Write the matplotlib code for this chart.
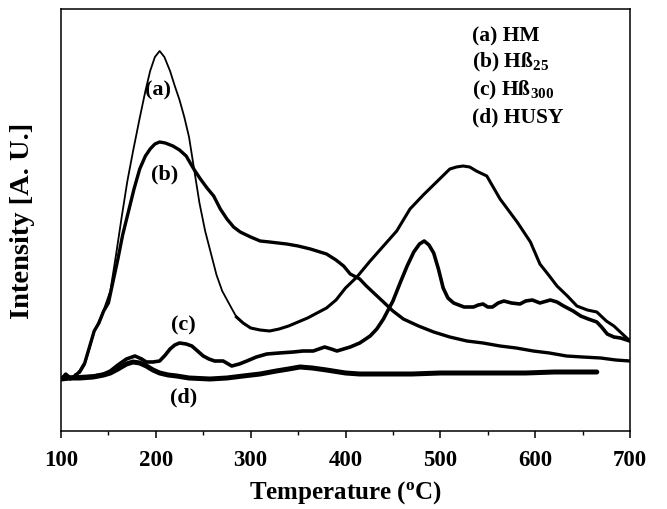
import matplotlib
matplotlib.use("Agg")
import matplotlib.pyplot as plt
import numpy as np

# ---- data (temperature in degC, intensity in arbitrary units) ----
T_a = [100,105,110,115,120,125,130,135,140,145,152,158,164,170,176,183,189,194,199,204,
       209,215,220,225,230,235,240,246,252,258,264,270,278,285,292,300,310,320,330,340,
       350,360,370,380,390,400,412,426,440,454,468,482,496,510,517,524,531,538,549,563,
       581,595,605,615,623,634,644,655,665,675,683,692,700]
I_a = [53,56,51,57,58,66,82,99,110,121,140,176,214,250,280,313,340,360,374,380,
       374,360,345,331,314,294,264,228,200,178,156,140,126,114,108,103,101,100,102,105,
       109,113,118,123,131,143,154,170,185,200,222,236,249,262,264,265,264,260,255,232,
       209,189,167,155,145,135,125,121,119,110,105,97,90]

T_b = [100,105,110,115,120,125,130,135,140,145,150,155,160,165,171,177,183,189,194,199,
       204,210,218,225,232,240,247,254,261,268,275,282,289,300,310,320,338,350,363,380,
       390,398,405,415,422,431,440,450,461,477,493,510,528,545,563,580,598,615,633,650,
       669,685,700]
I_b = [52,57,53,55,60,68,84,100,108,120,128,150,172,196,219,242,262,275,282,287,
       289,288,285,281,275,262,252,243,235,222,212,204,199,194,190,189,187,185,182,177,
       171,165,157,152,145,137,129,120,112,105,99,94,90,88,85,83,80,78,75,74,
       73,71,70]

T_c = [100,115,134,145,152,160,169,178,185,190,197,204,210,215,220,225,232,238,244,250,
       256,262,271,280,288,296,306,317,330,345,355,366,372,378,385,391,398,405,415,426,
       433,440,450,458,465,472,478,483,488,493,498,503,508,514,525,535,540,545,550,555,
       561,567,575,584,590,597,605,616,623,630,640,648,656,665,670,676,683,690,700]
I_c = [53,54,55,57,60,66,72,75,72,69,69,70,76,82,86,88,87,85,80,75,
       72,70,70,65,67,70,74,77,78,79,80,80,82,84,82,80,82,84,88,95,
       102,112,130,149,165,179,187,190,186,178,162,143,133,128,124,124,126,127,124,124,
       128,130,128,127,130,131,128,131,129,125,120,115,112,109,104,97,94,93,90]

T_d = [100,110,120,134,145,152,160,169,176,183,190,197,204,213,222,235,257,275,292,310,
       327,340,352,365,380,400,415,440,470,500,530,560,590,620,650,665]
I_d = [52,53,53,54,56,58,62,67,69,68,65,61,58,56,55,53,52,53,55,57,
       60,62,64,63,61,58,57,57,57,58,58,58,58,59,59,59]

labels = ["(a)", "(b)", "(c)", "(d)"]
label_T = [202.6, 209.7, 229, 229]
label_I = [342, 258, 107, 35]

legend_lines = ["(a) HM", "(b) Hß$_{25}$", "(c) Hß$_{300}$", "(d) HUSY"]

x_ticks = [100, 200, 300, 400, 500, 600, 700]

# ---- style ----
plt.rcParams['font.family'] = ['Liberation Serif', 'DejaVu Serif']
plt.rcParams['font.weight'] = 'bold'
plt.rcParams['mathtext.fontset'] = 'custom'
plt.rcParams['mathtext.rm'] = 'Liberation Serif:bold'
plt.rcParams['mathtext.it'] = 'Liberation Serif:bold'
plt.rcParams['mathtext.bf'] = 'Liberation Serif:bold'
plt.rcParams['mathtext.default'] = 'regular'

fig = plt.figure(figsize=(6.67, 5.10), dpi=100)
ax = fig.add_axes([61/667, 78/510, (630-61)/667, (432-10)/510])

Ta = np.array(T_a); Ia = np.array(I_a)
m1 = Ta <= 292
ax.plot(Ta[m1], Ia[m1], color='black', lw=1.3)
m2 = Ta >= 285
ax.plot(Ta[m2], Ia[m2], color='black', lw=2.2)
ax.plot(T_b, I_b, color='black', lw=2.4)
ax.plot(T_c, I_c, color='black', lw=2.6, solid_joinstyle='round')
ax.plot(T_d, I_d, color='black', lw=3.6, solid_capstyle='round')

for s, tx, ty in zip(labels, label_T, label_I):
    ax.text(tx, ty, s, ha='center', va='center', fontsize=16, fontweight='bold')

ly = [391, 365, 337, 310]
for s, y in zip(legend_lines, ly):
    ax.text(533, y, s, ha='left', va='baseline', fontsize=15.5, fontweight='bold')

ax.set_xlim(100, 700)
ax.set_ylim(0, 422)
ax.set_xticks(x_ticks)
ax.set_xticks(np.arange(150, 700, 100), minor=True)
ax.set_yticks([])
ax.tick_params(axis='x', which='major', direction='out', length=5, width=1.1,
               labelsize=16.5, pad=8)
ax.tick_params(axis='x', which='minor', direction='out', length=3, width=1.0)
for lab in ax.get_xticklabels():
    lab.set_fontweight('bold')
for sp in ax.spines.values():
    sp.set_linewidth(1.1)

ax.set_xlabel("Temperature ($^{o}$C)", fontsize=18, fontweight='bold', labelpad=6)
ax.set_ylabel("Intensity [A. U.]", fontsize=20.5, fontweight='bold')
ax.yaxis.set_label_coords(-0.045, 0.5)

fig.savefig("out.png", dpi=100)
